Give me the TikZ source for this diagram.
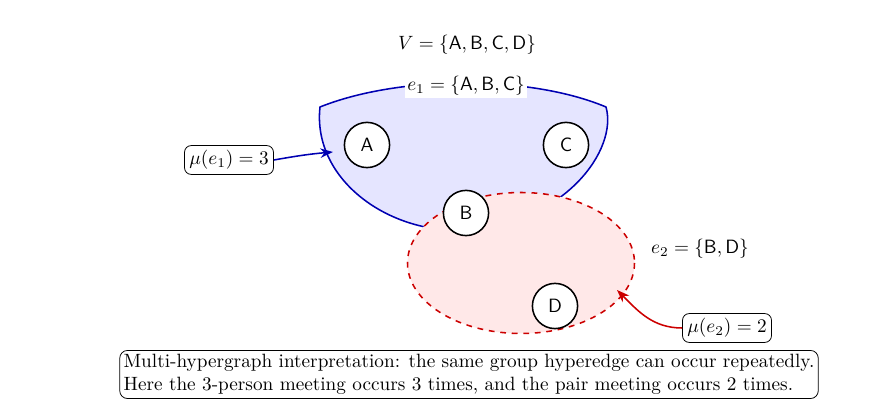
\documentclass[tikz,border=0pt]{standalone}
\usetikzlibrary{arrows.meta}
\begin{document}
\begin{tikzpicture}[x=0.52pt,y=-0.52pt,
  vert/.style={circle,draw,thick,fill=white,minimum size=23.5pt,inner sep=0pt,font=\sffamily},
  mubox/.style={draw,rounded corners=3.5pt,fill=white,inner sep=2.5pt},
  edgeblue/.style={draw=blue!70!black,thick,fill=blue!10},
  edgered/.style={draw=red!80!black,thick,dashed,fill=red!9}]
\useasboundingbox (0,0) rectangle (882,405);
% hyperedge e1
\path[edgeblue] (320,107) .. controls (400,75) and (530,75) .. (606,107)
  .. controls (618,150) and (565,222) .. (470,230)
  .. controls (390,236) and (312,180) .. (320,107) -- cycle;
% hyperedge e2
\path[edgered] (521,263) ellipse [x radius=113.5, y radius=70.5];
\node[fill=white,inner sep=1pt] (e1lab) at (466,86) {$e_1=\{\mathsf{A},\mathsf{B},\mathsf{C}\}$};
\node (vset) at (467,45) {$V=\{\mathsf{A},\mathsf{B},\mathsf{C},\mathsf{D}\}$};
\node (e2lab) at (700,249) {$e_2=\{\mathsf{B},\mathsf{D}\}$};
\node[vert] (A) at (367,145) {A};
\node[vert] (C) at (566,145) {C};
\node[vert] (B) at (466,213) {B};
\node[vert] (D) at (555,306) {D};
\coordinate (e1pt) at (333,152);
\coordinate (e2pt) at (617,290);
\node[mubox] (mu1) at (229,160) {$\mu(e_1)=3$};
\node[mubox] (mu2) at (727,328) {$\mu(e_2)=2$};
\draw[blue!70!black,thick,-{Stealth}] (mu1.east) to[out=10,in=185] (e1pt);
\draw[red!80!black,thick,-{Stealth}] (mu2.west) to[out=180,in=-45] (e2pt);
\node[draw,rounded corners=4pt,align=left,inner sep=2pt] (cap) at (469,374.5)
 {Multi-hypergraph interpretation: the same group hyperedge can occur repeatedly.\\
  Here the 3-person meeting occurs 3 times, and the pair meeting occurs 2 times.};
\end{tikzpicture}
\end{document}
